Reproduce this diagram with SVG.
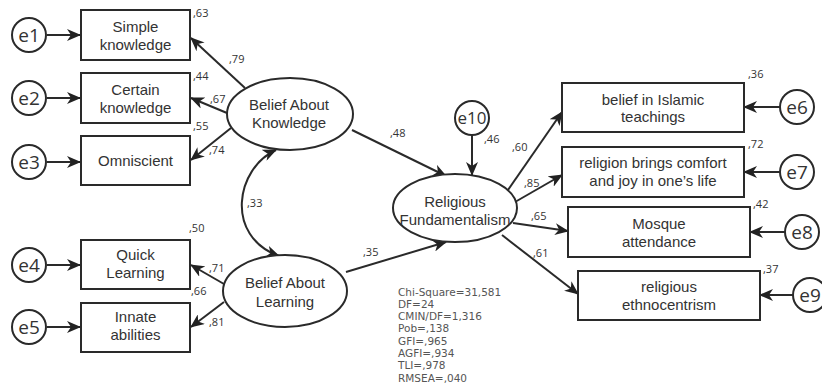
<svg xmlns="http://www.w3.org/2000/svg" width="822" height="392" viewBox="0 0 822 392">
<defs>
<marker id="ah" markerWidth="14" markerHeight="12" refX="13" refY="6" orient="auto" markerUnits="userSpaceOnUse">
<path d="M0,0 L14,6 L0,12 L4,6 z" fill="#222"/>
</marker>
<marker id="ahs" markerWidth="14" markerHeight="12" refX="13" refY="6" orient="auto-start-reverse" markerUnits="userSpaceOnUse">
<path d="M0,0 L14,6 L0,12 L4,6 z" fill="#222"/>
</marker>
<style>
.box{fill:#fff;stroke:#2a2a2a;stroke-width:2}
.ell{fill:#fff;stroke:#2a2a2a;stroke-width:2}
.err{fill:#fff;stroke:#2a2a2a;stroke-width:2}
.t{font-family:"Liberation Sans",Arial,sans-serif;font-size:15px;fill:#333;text-anchor:middle}
.e{font-family:"Open Sans","Liberation Sans",sans-serif;font-size:19px;fill:#333;text-anchor:middle}
.n{font-family:"Open Sans","Liberation Sans",sans-serif;font-size:11px;fill:#333}
.s{font-family:"DejaVu Sans",sans-serif;font-size:10.5px;fill:#555}
.c{fill:none;stroke:#2a2a2a;stroke-width:2;marker-end:url(#ah)}
</style>
</defs>
<rect width="822" height="392" fill="#fff"/>
<g id="connectors">
<line class="c" x1="47" y1="35" x2="80" y2="35"/>
<line class="c" x1="47" y1="98" x2="80" y2="98"/>
<line class="c" x1="47" y1="162" x2="80" y2="162"/>
<line class="c" x1="47" y1="265" x2="80" y2="265"/>
<line class="c" x1="47" y1="327" x2="80" y2="327"/>
<line class="c" x1="245" y1="88" x2="191" y2="38"/>
<line class="c" x1="227" y1="113" x2="191" y2="98"/>
<line class="c" x1="231" y1="128" x2="191" y2="160"/>
<line class="c" x1="224" y1="284" x2="191" y2="265"/>
<line class="c" x1="224" y1="302" x2="191" y2="327"/>
<path d="M276,150 C236,168 224,236 279,256" fill="none" stroke="#2a2a2a" stroke-width="2" marker-start="url(#ahs)" marker-end="url(#ah)"/>
<line class="c" x1="352" y1="130" x2="446" y2="176"/>
<line class="c" x1="346" y1="272" x2="446" y2="242"/>
<line class="c" x1="472" y1="135" x2="472" y2="175"/>
<line class="c" x1="508" y1="190" x2="562" y2="112"/>
<line class="c" x1="515" y1="202" x2="562" y2="175"/>
<line class="c" x1="513" y1="223" x2="568" y2="231"/>
<line class="c" x1="502" y1="235" x2="578" y2="294"/>
<line class="c" x1="780" y1="107" x2="744" y2="107"/>
<line class="c" x1="780" y1="172" x2="744" y2="172"/>
<line class="c" x1="785" y1="232" x2="750" y2="232"/>
<line class="c" x1="793" y1="295" x2="760" y2="295"/>
</g>
<g id="e1"><circle class="err" cx="29" cy="35" r="17"/><text class="e" x="29" y="42">e1</text></g>
<g id="e2"><circle class="err" cx="29" cy="98" r="17"/><text class="e" x="29" y="105">e2</text></g>
<g id="e3"><circle class="err" cx="29" cy="162" r="17"/><text class="e" x="29" y="169">e3</text></g>
<g id="e4"><circle class="err" cx="29" cy="265" r="17"/><text class="e" x="29" y="272">e4</text></g>
<g id="e5"><circle class="err" cx="29" cy="327" r="17"/><text class="e" x="29" y="334">e5</text></g>
<g id="simple"><rect class="box" x="81" y="10" width="109" height="50"/><text class="t" x="135.5" y="32">Simple</text><text class="t" x="135.5" y="50">knowledge</text></g>
<g id="certain"><rect class="box" x="81" y="73" width="109" height="50"/><text class="t" x="135.5" y="95">Certain</text><text class="t" x="135.5" y="113">knowledge</text></g>
<g id="omniscient"><rect class="box" x="81" y="136" width="109" height="49"/><text class="t" x="135.5" y="166">Omniscient</text></g>
<g id="quick"><rect class="box" x="81" y="240" width="109" height="49"/><text class="t" x="135.5" y="260">Quick</text><text class="t" x="135.5" y="278">Learning</text></g>
<g id="innate"><rect class="box" x="81" y="303" width="109" height="49"/><text class="t" x="135.5" y="322">Innate</text><text class="t" x="135.5" y="340">abilities</text></g>
<g id="bak"><ellipse class="ell" cx="290" cy="114" rx="63" ry="36"/><text class="t" x="289" y="110">Belief About</text><text class="t" x="289" y="128">Knowledge</text></g>
<g id="bal"><ellipse class="ell" cx="285" cy="291" rx="62" ry="36"/><text class="t" x="285" y="288">Belief About</text><text class="t" x="285" y="307">Learning</text></g>
<g id="rf"><ellipse class="ell" cx="455" cy="208" rx="62" ry="34"/><text class="t" x="455" y="207">Religious</text><text class="t" x="455" y="225">Fundamentalism</text></g>
<g id="e10"><circle class="err" cx="472" cy="118" r="17"/><text class="e" x="472" y="124" style="font-size:17px">e10</text></g>
<g id="islamic"><rect class="box" x="562" y="83" width="182" height="49"/><text class="t" x="653" y="105">belief in Islamic</text><text class="t" x="653" y="122">teachings</text></g>
<g id="comfort"><rect class="box" x="562" y="147" width="182" height="50"/><text class="t" x="653" y="168">religion brings comfort</text><text class="t" x="653" y="186">and joy in one’s life</text></g>
<g id="mosque"><rect class="box" x="568" y="207" width="182" height="50"/><text class="t" x="659" y="229">Mosque</text><text class="t" x="659" y="247">attendance</text></g>
<g id="ethno"><rect class="box" x="578" y="271" width="182" height="49"/><text class="t" x="669" y="292">religious</text><text class="t" x="669" y="310">ethnocentrism</text></g>
<g id="e6"><circle class="err" cx="797" cy="107" r="17"/><text class="e" x="797" y="114">e6</text></g>
<g id="e7"><circle class="err" cx="797" cy="172" r="17"/><text class="e" x="797" y="179">e7</text></g>
<g id="e8"><circle class="err" cx="802" cy="232" r="17"/><text class="e" x="802" y="239">e8</text></g>
<g id="e9"><circle class="err" cx="810" cy="295" r="17"/><text class="e" x="810" y="302">e9</text></g>
<g id="labels">
<text class="n" x="193" y="17">,63</text>
<text class="n" x="229" y="63">,79</text>
<text class="n" x="193" y="80">,44</text>
<text class="n" x="210" y="103">,67</text>
<text class="n" x="193" y="130">,55</text>
<text class="n" x="209" y="154">,74</text>
<text class="n" x="247" y="207">,33</text>
<text class="n" x="189" y="232">,50</text>
<text class="n" x="209" y="272">,71</text>
<text class="n" x="191" y="295">,66</text>
<text class="n" x="209" y="326">,81</text>
<text class="n" x="390" y="137">,48</text>
<text class="n" x="363" y="256">,35</text>
<text class="n" x="484" y="143">,46</text>
<text class="n" x="512" y="151">,60</text>
<text class="n" x="524" y="187">,85</text>
<text class="n" x="531" y="220">,65</text>
<text class="n" x="533" y="257">,61</text>
<text class="n" x="748" y="78">,36</text>
<text class="n" x="748" y="148">,72</text>
<text class="n" x="753" y="208">,42</text>
<text class="n" x="763" y="273">,37</text>
</g>
<g id="fit">
<text class="s" x="398" y="296">Chi-Square=31,581</text>
<text class="s" x="398" y="308">DF=24</text>
<text class="s" x="398" y="320">CMIN/DF=1,316</text>
<text class="s" x="398" y="332">Pob=,138</text>
<text class="s" x="398" y="345">GFI=,965</text>
<text class="s" x="398" y="357">AGFI=,934</text>
<text class="s" x="398" y="369">TLI=,978</text>
<text class="s" x="398" y="382">RMSEA=,040</text>
</g>
</svg>
